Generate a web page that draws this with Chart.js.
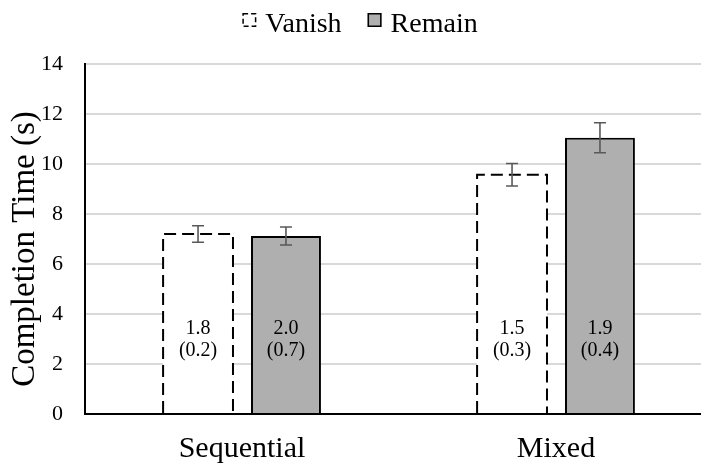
<!DOCTYPE html>
<html>
<head>
<meta charset="utf-8">
<script src="https://cdn.jsdelivr.net/npm/chart.js@4.4.0/dist/chart.umd.min.js"></script>
<style>
  body { margin: 0; background: #fff; overflow: hidden; }
  #wrap { width: 713px; height: 466px; }
</style>
</head>
<body>
<div id="wrap"><canvas id="timeChart"></canvas></div>
<script>
// data
const categories = ['Sequential', 'Mixed'];
const seriesNames = ['Vanish', 'Remain'];
const vanishMeans = [7.2, 9.57];
const remainMeans = [7.12, 11.05];
const vanishErr = [0.33, 0.45];
const remainErr = [0.36, 0.6];
const vanishNotes = [['1.8', '(0.2)'], ['1.5', '(0.3)']];
const remainNotes = [['2.0', '(0.7)'], ['1.9', '(0.4)']];
const yTicks = [0, 2, 4, 6, 8, 10, 12, 14];
const yTitle = 'Completion Time (s)';

const serif = "'Liberation Serif', 'Times New Roman', serif";
const errors = [vanishErr, remainErr];
const notes = [vanishNotes, remainNotes];

// dashed outline for Vanish, error bars, text inside the bars
const extrasPlugin = {
    id: 'extras',
    afterDatasetsDraw(chart) {
        const ctx = chart.ctx;
        const y = chart.scales.y;
        ctx.save();

        // dashed border of the Vanish bars
        chart.getDatasetMeta(0).data.forEach(bar => {
            const left = bar.x - bar.width / 2;
            const right = bar.x + bar.width / 2;
            ctx.beginPath();
            ctx.setLineDash([12, 6]);
            ctx.lineWidth = 2;
            ctx.strokeStyle = '#000';
            ctx.moveTo(left, bar.base);
            ctx.lineTo(left, bar.y);
            ctx.lineTo(right, bar.y);
            ctx.lineTo(right, bar.base);
            ctx.stroke();
        });
        ctx.setLineDash([]);

        chart.data.datasets.forEach((ds, i) => {
            chart.getDatasetMeta(i).data.forEach((bar, j) => {
                const v = ds.data[j];
                const e = errors[i][j];
                const top = y.getPixelForValue(v + e);
                const bot = y.getPixelForValue(v - e);
                ctx.beginPath();
                ctx.lineWidth = 1.6;
                ctx.strokeStyle = '#595959';
                ctx.moveTo(bar.x, top);
                ctx.lineTo(bar.x, bot);
                ctx.moveTo(bar.x - 6, top);
                ctx.lineTo(bar.x + 6, top);
                ctx.moveTo(bar.x - 6, bot);
                ctx.lineTo(bar.x + 6, bot);
                ctx.stroke();

                ctx.fillStyle = '#000';
                ctx.font = '20px ' + serif;
                ctx.textAlign = 'center';
                ctx.textBaseline = 'middle';
                ctx.fillText(notes[i][j][0], bar.x, y.getPixelForValue(3.42));
                ctx.fillText(notes[i][j][1], bar.x, y.getPixelForValue(2.52));
            });
        });
        ctx.restore();
    },
    afterDraw(chart) {
        const ctx = chart.ctx;
        ctx.save();

        // y axis title
        const area = chart.chartArea;
        ctx.translate(25, (area.top + area.bottom) / 2 + 10);
        ctx.rotate(-Math.PI / 2);
        ctx.font = '33px ' + serif;
        ctx.fillStyle = '#000';
        ctx.textAlign = 'center';
        ctx.textBaseline = 'middle';
        ctx.fillText(yTitle, 0, 0);
        ctx.setTransform(1, 0, 0, 1, 0, 0);

        // legend
        ctx.font = '28px ' + serif;
        const box = 14, gapText = 9, gapItem = 26;
        const widths = seriesNames.map(n => ctx.measureText(n).width);
        const total = widths.reduce((a, w) => a + box + gapText + w, 0) + gapItem;
        let x = 360 - total / 2;
        const boxTop = 13;
        seriesNames.forEach((name, i) => {
            const ds = chart.data.datasets[i];
            ctx.fillStyle = ds.backgroundColor;
            ctx.fillRect(x, boxTop, box, box);
            ctx.lineWidth = 1.5;
            ctx.strokeStyle = '#000';
            ctx.setLineDash(i === 0 ? [5, 3] : []);
            ctx.strokeRect(x + 0.75, boxTop + 0.75, box - 1.5, box - 1.5);
            ctx.setLineDash([]);
            ctx.fillStyle = '#000';
            ctx.textAlign = 'left';
            ctx.textBaseline = 'alphabetic';
            ctx.fillText(name, x + box + gapText, 32);
            x += box + gapText + widths[i] + gapItem;
        });
        ctx.restore();
    }
};

new Chart(document.getElementById('timeChart'), {
    type: 'bar',
    data: {
        labels: categories,
        datasets: [{
            label: seriesNames[0],
            data: vanishMeans,
            backgroundColor: '#ffffff',
            borderWidth: 0
        }, {
            label: seriesNames[1],
            data: remainMeans,
            backgroundColor: '#afafaf',
            borderColor: '#000000',
            borderWidth: 2
        }]
    },
    options: {
        responsive: true,
        maintainAspectRatio: false,
        animation: false,
        categoryPercentage: 0.56,
        barPercentage: 0.795,
        layout: { padding: { top: 64, left: 0, right: 0, bottom: 0 } },
        plugins: {
            legend: { display: false },
            tooltip: { enabled: false }
        },
        scales: {
            x: {
                grid: { display: false, drawTicks: false },
                border: { display: true, color: '#000', width: 2 },
                ticks: { color: '#000', font: { family: serif, size: 30 }, padding: 17 },
                afterFit(scale) { scale.height = 52; }
            },
            y: {
                min: 0,
                max: 14,
                afterBuildTicks(scale) { scale.ticks = yTicks.map(v => ({ value: v })); },
                grid: { color: '#d9d9d9', lineWidth: 2, drawTicks: false },
                border: { display: true, color: '#000', width: 2 },
                ticks: { color: '#000', font: { family: serif, size: 22 }, padding: 22 },
                afterFit(scale) { scale.width = 85; }
            }
        }
    },
    plugins: [extrasPlugin]
});
</script>
</body>
</html>
